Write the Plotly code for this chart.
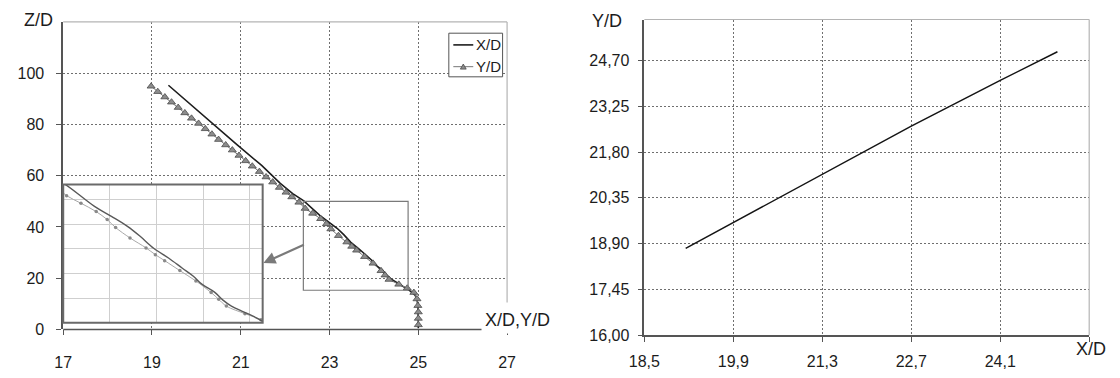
import plotly.graph_objects as go

W, H = 1120, 378

# ---- left chart: trajectory components versus height ----
# Y/D samples (triangles)
yd_z = [94.9, 92.8, 90.7, 88.7, 86.6, 84.5, 82.4, 80.4, 78.3, 76.2, 74.1, 72.0,
        70.0, 67.9, 65.8, 63.7, 61.6, 59.5, 57.5, 55.4, 53.5, 51.7, 49.6, 47.2,
        45.3, 43.2, 41.2, 39.2, 36.6, 34.1, 32.4, 30.9, 28.4, 25.8, 22.9, 21.2,
        19.5, 17.6, 16.1, 14.4, 11.9, 9.3, 6.8, 4.3, 1.8]
yd_x = [18.98, 19.13, 19.29, 19.44, 19.59, 19.74, 19.89, 20.05, 20.20, 20.35, 20.50, 20.66,
        20.81, 20.96, 21.11, 21.26, 21.42, 21.57, 21.72, 21.87, 22.02, 22.15, 22.31, 22.45,
        22.62, 22.80, 22.93, 23.03, 23.20, 23.39, 23.50, 23.61, 23.79, 23.98, 24.16, 24.25,
        24.34, 24.56, 24.75, 24.90, 24.97, 24.99, 25.00, 25.00, 25.00]

# X/D curve
xd_z = [95.3, 88.0, 80.0, 72.0, 64.0, 57.0, 53.0, 50.2, 44.5, 42.0, 39.5, 37.0,
        34.0, 31.5, 29.0, 27.0, 25.0, 23.0, 21.0, 19.5, 18.0, 16.5, 15.0, 13.5,
        12.0, 9.0, 6.0, 3.0, 0.5]
xd_x = [19.37, 19.85, 20.37, 20.92, 21.47, 21.89, 22.17, 22.42, 22.78, 22.98, 23.17, 23.32,
        23.48, 23.66, 23.82, 23.95, 24.05, 24.20, 24.30, 24.40, 24.55, 24.70, 24.82, 24.92,
        24.97, 24.99, 25.00, 25.00, 25.00]

left_xticks = [17, 19, 21, 23, 25, 27]
left_zticks = [0, 20, 40, 60, 80, 100]

# enlarged window shown in the inset
zoom_box_x = [22.41, 24.77]
zoom_box_z = [15.3, 50.0]

# ---- right chart: Y/D versus X/D ----
traj_x = [19.15, 19.9, 21.3, 22.7, 24.1, 25.0]
traj_y = [18.75, 19.57, 21.10, 22.62, 24.07, 24.98]

right_xticks = [18.5, 19.9, 21.3, 22.7, 24.1, 25.5]
right_xlabels = ["18,5", "19,9", "21,3", "22,7", "24,1", ""]
right_yticks = [16.00, 17.45, 18.90, 20.35, 21.80, 23.25, 24.70]
right_ylabels = ["16,00", "17,45", "18,90", "20,35", "21,80", "23,25", "24,70"]

FONT = "Liberation Sans, Arial, sans-serif"
TXT = "#1c1c1c"
AXIS = "#555555"
GRID = "#6f6f6f"
BORDER = "#b4b4b4"


def fx(p):
    return p / W


def fy(p):
    return 1 - p / H


fig = go.Figure()

fig.add_trace(go.Scatter(x=xd_x, y=xd_z, mode="lines", name="X/D",
                         line=dict(color="#1e1e1e", width=1.6),
                         xaxis="x", yaxis="y", showlegend=False))
fig.add_trace(go.Scatter(x=yd_x, y=yd_z, mode="lines+markers", name="Y/D",
                         line=dict(color="#777777", width=1),
                         marker=dict(symbol="triangle-up", size=7, color="#8c8c8c",
                                     line=dict(color="#4a4a4a", width=0.8)),
                         xaxis="x", yaxis="y", showlegend=False))

# inset: enlarged view of the boxed window
fig.add_trace(go.Scatter(x=yd_x, y=yd_z, mode="lines+markers", name="Y/D",
                         line=dict(color="#a8a8a8", width=1, shape="spline"),
                         marker=dict(symbol="circle", size=3.5, color="#8a8a8a"),
                         xaxis="x3", yaxis="y3", showlegend=False, cliponaxis=True))
fig.add_trace(go.Scatter(x=xd_x, y=xd_z, mode="lines", name="X/D",
                         line=dict(color="#595959", width=1.4, shape="spline"),
                         xaxis="x3", yaxis="y3", showlegend=False))

fig.add_trace(go.Scatter(x=traj_x, y=traj_y, mode="lines", name="Y/D(X/D)",
                         line=dict(color="#151515", width=1.5),
                         xaxis="x2", yaxis="y2", showlegend=False))

tickfont = dict(family=FONT, size=16, color=TXT)
grid_common = dict(showgrid=True, gridcolor=GRID, gridwidth=1, griddash="2px,2px",
                   zeroline=False, ticks="outside", ticklen=5, tickcolor=AXIS,
                   tickwidth=1, tickfont=tickfont)

fig.update_layout(
    width=W, height=H, autosize=False,
    margin=dict(l=0, r=0, t=0, b=0),
    paper_bgcolor="white", plot_bgcolor="white",
    separators=",.",
    font=dict(family=FONT, color=TXT),
    xaxis=dict(domain=[fx(48.3), fx(502.3)], range=[17, 27], anchor="y",
               tickvals=left_xticks, showline=False, ticklabelstandoff=13,
               **grid_common),
    yaxis=dict(domain=[fy(337.5), fy(22.5)], range=[0, 120], anchor="x",
               tickvals=left_zticks, showline=True, linecolor=AXIS, linewidth=1.5,
               ticklabelstandoff=9, **grid_common),
    xaxis2=dict(domain=[fx(642.7), fx(1097.7)], range=[18.5, 25.5], anchor="y2",
                tickvals=right_xticks, ticktext=right_xlabels, showline=True,
                linecolor=AXIS, linewidth=1.5, ticklabelstandoff=6, **grid_common),
    yaxis2=dict(domain=[fy(343.3), fy(20)], range=[16, 26], anchor="x2",
                tickvals=right_yticks, ticktext=right_ylabels, showline=True,
                linecolor=AXIS, linewidth=1.5, ticklabelstandoff=5, **grid_common),
    xaxis3=dict(domain=[fx(48.3), fx(252.3)], range=zoom_box_x, anchor="y3",
                showticklabels=False, ticks="", showline=False, zeroline=False,
                showgrid=True, gridcolor="#cfcfcf", gridwidth=1,
                tick0=22.962, dtick=0.552),
    yaxis3=dict(domain=[fy(330.7), fy(189)], range=zoom_box_z, anchor="x3",
                showticklabels=False, ticks="", showline=False, zeroline=False,
                showgrid=True, gridcolor="#cfcfcf", gridwidth=1,
                tick0=21.52, dtick=6.16),
)

shapes = []
# left chart frame pieces
shapes.append(dict(type="line", xref="x domain", yref="y domain", x0=0, x1=1, y0=1, y1=1,
                   line=dict(color=BORDER, width=1.2)))
shapes.append(dict(type="line", xref="x domain", yref="y domain", x0=1, x1=1,
                   y0=(337.5 - 310) / 315, y1=1, line=dict(color=BORDER, width=1.2)))
shapes.append(dict(type="line", xref="x domain", yref="y domain", x0=0,
                   x1=(476.7 - 48.3) / 454, y0=0, y1=0, line=dict(color=AXIS, width=1.5)))
# right chart frame pieces
shapes.append(dict(type="line", xref="x2 domain", yref="y2 domain", x0=0, x1=1, y0=1, y1=1,
                   line=dict(color=BORDER, width=1.2)))
shapes.append(dict(type="line", xref="x2 domain", yref="y2 domain", x0=1, x1=1, y0=0, y1=1,
                   line=dict(color=BORDER, width=1.2)))
# window marked on the main chart
shapes.append(dict(type="rect", xref="x", yref="y", x0=zoom_box_x[0], x1=zoom_box_x[1],
                   y0=zoom_box_z[0], y1=zoom_box_z[1], line=dict(color="#7a7a7a", width=1.2)))
# inset background and frame
shapes.append(dict(type="rect", xref="x3 domain", yref="y3 domain", x0=0, x1=1, y0=0, y1=1,
                   fillcolor="white", line=dict(width=0), layer="below"))
shapes.append(dict(type="rect", xref="x3 domain", yref="y3 domain", x0=0, x1=1, y0=0, y1=1,
                   line=dict(color="#6a6a6a", width=2)))
# legend box
shapes.append(dict(type="rect", xref="paper", yref="paper", x0=fx(442.7), x1=fx(497.7),
                   y0=fy(78.7), y1=fy(34), fillcolor="white", line=dict(color="#555555", width=1)))
shapes.append(dict(type="line", xref="paper", yref="paper", x0=fx(447.3), x1=fx(467.7),
                   y0=fy(46), y1=fy(46), line=dict(color="#1e1e1e", width=1.6)))
shapes.append(dict(type="line", xref="paper", yref="paper", x0=fx(447.3), x1=fx(467.7),
                   y0=fy(68.3), y1=fy(68.3), line=dict(color="#777777", width=1)))
tri = "M {:.5f} {:.5f} L {:.5f} {:.5f} L {:.5f} {:.5f} Z".format(
    fx(454.5), fy(70.8), fx(460.5), fy(70.8), fx(457.5), fy(65.6))
shapes.append(dict(type="path", xref="paper", yref="paper", path=tri,
                   fillcolor="#8c8c8c", line=dict(color="#4a4a4a", width=0.8)))
fig.update_layout(shapes=shapes)

ann = []
ann.append(dict(text="Z/D", xref="paper", yref="paper", x=fx(23.3), y=fy(20.5),
                xanchor="center", yanchor="middle", showarrow=False,
                font=dict(family=FONT, size=18, color=TXT)))
ann.append(dict(text="X/D,Y/D", xref="paper", yref="paper", x=fx(513.3), y=fy(328),
                xanchor="center", yanchor="middle", showarrow=False, bgcolor="white",
                borderpad=3, font=dict(family=FONT, size=18, color=TXT)))
ann.append(dict(text="Y/D", xref="paper", yref="paper", x=fx(604), y=fy(21),
                xanchor="center", yanchor="middle", showarrow=False,
                font=dict(family=FONT, size=18, color=TXT)))
ann.append(dict(text="X/D", xref="paper", yref="paper", x=fx(1100), y=fy(358),
                xanchor="center", yanchor="middle", showarrow=False,
                font=dict(family=FONT, size=18, color=TXT)))
ann.append(dict(text="X/D", xref="paper", yref="paper", x=fx(468.5), y=fy(46),
                xanchor="left", yanchor="middle", showarrow=False,
                font=dict(family=FONT, size=15, color=TXT)))
ann.append(dict(text="Y/D", xref="paper", yref="paper", x=fx(468.5), y=fy(68.3),
                xanchor="left", yanchor="middle", showarrow=False,
                font=dict(family=FONT, size=15, color=TXT)))
# arrow from the marked window to the inset
ann.append(dict(text="", xref="paper", yref="paper", x=fx(253), y=fy(269.5),
                ax=42, ay=-19, axref="pixel", ayref="pixel", showarrow=True,
                arrowhead=2, arrowsize=1.1, arrowwidth=2.2, arrowcolor="#7a7a7a"))
fig.update_layout(annotations=ann)

fig.write_html("out.html")
